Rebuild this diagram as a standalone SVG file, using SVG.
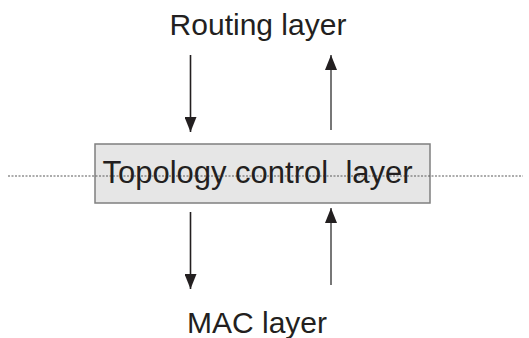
<svg xmlns="http://www.w3.org/2000/svg" width="529" height="338" viewBox="0 0 529 338">
<style>
text{font-family:"Liberation Sans",Arial,sans-serif;font-size:30px;fill:#231f20;text-anchor:middle}
.big{font-size:31px}
.ar{stroke-width:1.6;fill:none}
</style>
<defs>
<marker id="h" markerWidth="16" markerHeight="12" refX="15" refY="6" orient="auto" markerUnits="userSpaceOnUse" viewBox="0 0 16 12">
<path d="M0,0 L15,6 L0,12 Z" fill="#231f20"/>
</marker>
</defs>
<rect width="529" height="338" fill="#fff"/>
<g id="routing"><text x="258" y="35">Routing layer</text></g>
<g id="mac"><text x="257" y="333">MAC layer</text></g>
<g id="topology">
<rect x="95" y="144" width="335" height="59" fill="#e6e6e6" stroke="#7f7f7f" stroke-width="1.5"/>
</g>
<g id="connectors">
<line x1="8" y1="176" x2="523" y2="176" stroke="#5a5a5a" stroke-width="1.2" stroke-dasharray="2,1.5"/>
<line class="ar" x1="190.5" y1="55" x2="190.5" y2="132" stroke="#231f20" marker-end="url(#h)"/>
<line class="ar" x1="331" y1="130" x2="331" y2="55" stroke="#555" marker-end="url(#h)"/>
<line class="ar" x1="190.5" y1="212" x2="190.5" y2="289" stroke="#231f20" marker-end="url(#h)"/>
<line class="ar" x1="331" y1="285" x2="331" y2="208" stroke="#555" marker-end="url(#h)"/>
</g>
<g id="topology-label"><text class="big" x="257.5" y="183" xml:space="preserve">Topology control  layer</text></g>
</svg>
